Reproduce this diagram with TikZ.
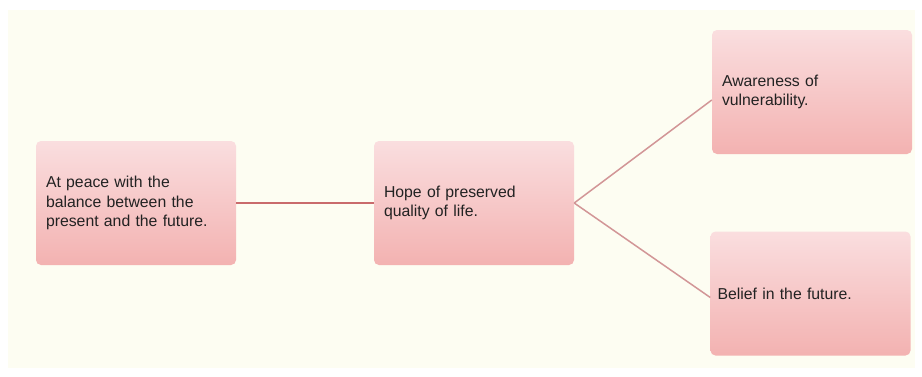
\documentclass[tikz,border=0pt]{standalone}
\usepackage{fontspec}
\setmainfont{Liberation Sans}
\definecolor{paper}{HTML}{FDFDF2}
\definecolor{boxtop}{HTML}{FADEDF}
\definecolor{boxbot}{HTML}{F3B2B1}
\definecolor{linkdark}{HTML}{C96B6C}
\definecolor{linklight}{HTML}{D29697}
\definecolor{ink}{HTML}{222222}

\begin{document}
\begin{tikzpicture}[x=1pt, y=1pt]
				\tikzstyle{every node}=[inner sep=0pt, align=left, text=ink, font=\fontsize{15.8}{19.5}\selectfont]
				\tikzstyle{card}=[rounded corners=5pt, top color=boxtop, bottom color=boxbot, minimum width=200pt, minimum height=124pt, text width=180pt, inner xsep=10pt]
				\useasboundingbox (0, 0) rectangle (922, 376);
				\fill [white] (0, 0) rectangle (922, 376);
				\fill [paper] (8, 8) rectangle (915, 366);
				\node [card] (A) at (136, 173) {At peace with the\\balance between the\\present and the future.};
				\node [card] (B) at (474, 173) {Hope of preserved\\quality of life.};
				\node [card] (C) at (812, 284) {Awareness of\\vulnerability.};
				\node [card, text width=186pt, inner xsep=7pt] (D) at (810.5, 82.5) {Belief in the future.};
				\draw [linkdark, line width=2.5pt] (A.east) -- (B.west);
				\draw [linklight, line width=1.5pt] (B.east) -- ([yshift=-8pt]C.west);
				\draw [linklight, line width=1.5pt] (B.east) -- ([yshift=-4pt]D.west);
		\end{tikzpicture}
\end{document}
